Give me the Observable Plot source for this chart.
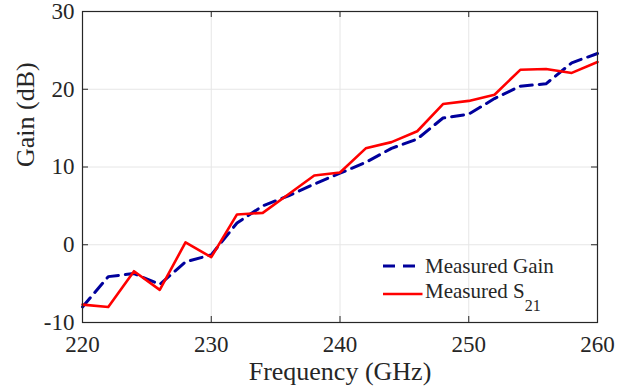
<!DOCTYPE html>
<html><head><meta charset="utf-8">
<script src="https://cdn.jsdelivr.net/npm/d3@7"></script>
<script src="https://cdn.jsdelivr.net/npm/@observablehq/plot@0.6"></script>
<style>
body{margin:0;background:#fff}
#c{position:relative;width:634px;height:391px;font-family:'Liberation Serif',serif;color:#262626}
#c svg, #c svg text{font-family:'Liberation Serif',serif !important}
.lg{position:absolute;font-family:'Liberation Serif',serif;font-size:21px;line-height:21px;white-space:nowrap}
.lg svg{position:absolute}
</style>
</head><body><div id="c"></div>
<script>
const freq = [220,222,224,226,228,230,232,234,236,238,240,242,244,246,248,250,252,254,256,258,260];
const gain = [-8.0,-4.1,-3.7,-5.1,-2.2,-1.3,2.8,5.0,6.3,7.8,9.2,10.6,12.4,13.6,16.3,16.8,18.8,20.4,20.7,23.4,24.6];
const s21  = [-7.7,-8.0,-3.4,-5.8,0.3,-1.6,3.9,4.1,6.5,8.9,9.3,12.4,13.2,14.6,18.1,18.5,19.3,22.5,22.6,22.1,23.5];
const xTicks = [220,230,240,250,260];
const yTicks = [-10,0,10,20,30];
const xLabel = "Frequency (GHz)";
const yLabel = "Gain (dB)";

const W = 634, H = 391, mL = 82, mR = 37, mT = 11, mB = 69;
const fw = W - mL - mR, fh = H - mT - mB, tk = 6;
const gainData = freq.map((f,i)=>({f, v: gain[i]}));
const s21Data = freq.map((f,i)=>({f, v: s21[i]}));
const ink = "#262626";

const chart = Plot.plot({
  width: W, height: H, marginLeft: mL, marginRight: mR, marginTop: mT, marginBottom: mB,
  style: {fontFamily: "Liberation Serif", fontSize: "23px", color: ink, background: "#fff"},
  x: {domain: [220,260]},
  y: {domain: [-10,30]},
  marks: [
    Plot.gridX(xTicks, {stroke: "#e6e6e6", strokeOpacity: 1, strokeWidth: 1}),
    Plot.gridY(yTicks, {stroke: "#e6e6e6", strokeOpacity: 1, strokeWidth: 1}),
    Plot.line(gainData, {x: "f", y: "v", stroke: "#00009c", strokeWidth: 3, strokeDasharray: "12,7"}),
    Plot.line(s21Data, {x: "f", y: "v", stroke: "#ff0000", strokeWidth: 2.6}),
    Plot.frame({stroke: ink, strokeWidth: 1.2}),
    Plot.tickX(xTicks, {x: d=>d, stroke: ink, insetTop: fh - tk}),
    Plot.tickX(xTicks, {x: d=>d, stroke: ink, insetBottom: fh - tk}),
    Plot.tickY(yTicks, {y: d=>d, stroke: ink, insetRight: fw - tk}),
    Plot.tickY(yTicks, {y: d=>d, stroke: ink, insetLeft: fw - tk}),
    Plot.axisX(xTicks, {tickSize: 0, tickPadding: 13, fontSize: 23, label: null, fill: ink, tickFormat: d => String(d)}),
    Plot.axisY(yTicks, {tickSize: 0, tickPadding: 8, fontSize: 23, label: null, fill: ink, tickFormat: d => String(d)}),
    Plot.text([xLabel], {text: d=>d, frameAnchor: "bottom", dy: 49, fontSize: 26, lineAnchor: "middle", fill: ink}),
    Plot.text([yLabel], {text: d=>d, frameAnchor: "left", dx: -57, rotate: -90, fontSize: 26, lineAnchor: "middle", fill: ink})
  ]
});
const c = document.getElementById("c");
c.appendChild(chart);

// legend
const lg1 = document.createElement("div");
lg1.className = "lg";
lg1.style.left = "383px"; lg1.style.top = "255.7px";
lg1.innerHTML = '<svg width="40" height="10" style="left:0;top:5px;overflow:visible"><line x1="0" y1="5" x2="39" y2="5" stroke="#00009c" stroke-width="3" stroke-dasharray="12,8"/></svg><span style="position:absolute;left:42px;top:0">Measured Gain</span>';
c.appendChild(lg1);
const lg2 = document.createElement("div");
lg2.className = "lg";
lg2.style.left = "383px"; lg2.style.top = "281.4px";
lg2.innerHTML = '<svg width="40" height="10" style="left:0;top:7.6px;overflow:visible"><line x1="0" y1="5" x2="39.5" y2="5" stroke="#ff0000" stroke-width="2.6"/></svg><span style="position:absolute;left:42px;top:0">Measured S<span style="font-size:16px;position:relative;top:12.5px">21</span></span>';
c.appendChild(lg2);
</script>
</body></html>
